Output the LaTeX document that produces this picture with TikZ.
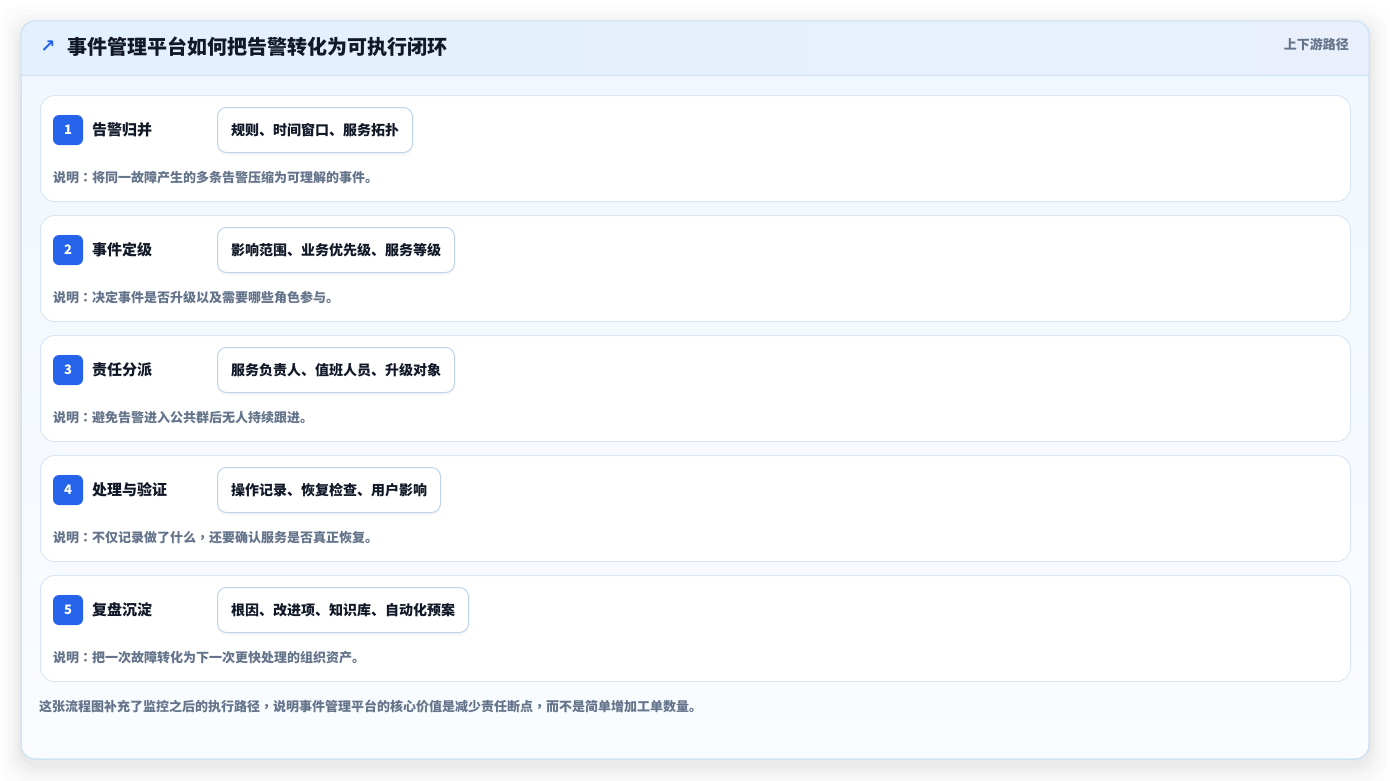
\documentclass[tikz,border=0pt]{standalone}
\usepackage{fontspec}
\setmainfont{Noto Sans CJK SC}
\newfontfamily\symfont{DejaVu Sans}
\newfontfamily\tcfont{Noto Sans CJK TC}
\usetikzlibrary{shadows}

\newlength{\du}
\setlength{\du}{1pt}
% centred full-width punctuation
\newcommand{\cc}{{\tcfont ：}}
\newcommand{\cm}{{\tcfont ，}}

\definecolor{cardline}{RGB}{204,225,244}
\definecolor{headfill}{RGB}{227,240,253}
\definecolor{headfillb}{RGB}{233,240,252}
\definecolor{bodytop}{RGB}{240,247,254}
\definecolor{bodybottom}{RGB}{250,252,255}
\definecolor{rowline}{RGB}{218,232,246}
\definecolor{badgefill}{RGB}{37,99,235}
\definecolor{chipline}{RGB}{190,212,236}
\definecolor{ink}{RGB}{17,24,39}
\definecolor{muted}{RGB}{100,116,139}

\tikzset{
  card/.style={rectangle,rounded corners=14\du,draw=cardline,line width=1\du,
    top color=bodytop,bottom color=bodybottom,minimum width=1348\du,minimum height=738\du,inner sep=0pt},
  rowbox/.style={rectangle,rounded corners=14\du,draw=rowline,line width=1\du,fill=white,
    minimum width=1310\du,minimum height=106\du,inner sep=0pt,anchor=north west},
  badge/.style={rectangle,rounded corners=6\du,fill=badgefill,text=white,minimum size=30\du,
    inner sep=0pt,font=\fontsize{13}{15}\selectfont\bfseries},
  steplabel/.style={anchor=west,inner sep=0pt,text=ink,font=\fontsize{15}{18}\selectfont\bfseries},
  chip/.style={rectangle,rounded corners=9\du,draw=chipline,line width=1\du,fill=white,anchor=west,
    minimum height=45\du,inner xsep=13.5\du,inner ysep=0pt,text=ink,font=\fontsize{14}{17}\selectfont\bfseries,
    drop shadow={opacity=0.06,shadow xshift=0pt,shadow yshift=-3pt}},
  note/.style={anchor=west,inner sep=0pt,text=muted,font=\fontsize{13}{16}\selectfont\bfseries}
}

\begin{document}
\begin{tikzpicture}[x=1\du,y=-1\du]
\useasboundingbox[fill=white] (0,0) rectangle (1390,780);
% soft shadow of the card
\foreach \s/\o in {22/0.008,17/0.01,13/0.012,9/0.014,6/0.016,3/0.018}
  \fill[black,opacity=\o,rounded corners=22\du] (21-\s,21-\s+6) rectangle (1369+\s,759+\s+6);
\node[card] (card) at (695,390) {};
% header band
\begin{scope}
\clip[rounded corners=14\du] (21,21) rectangle (1369,759);
\path[left color=headfill,right color=headfillb] (21,21) rectangle (1369,75);
\draw[cardline,line width=1\du] (21,75) -- (1369,75);
\end{scope}
\draw[cardline,line width=1\du,rounded corners=14\du] (21,21) rectangle (1369,759);
\node[anchor=center,inner sep=0pt,text=badgefill,font=\symfont\fontsize{18}{20}\selectfont\bfseries] (arrow) at (48,47) {↗};
\node[anchor=west,inner sep=0pt,text=ink,font=\fontsize{20}{24}\selectfont\bfseries] (title) at (67,47) {事件管理平台如何把告警转化为可执行闭环};
\node[anchor=east,inner sep=0pt,text=muted,font=\fontsize{13}{16}\selectfont\bfseries] (tag) at (1349,44) {上下游路径};
% steps
\foreach \lab/\chiptext/\notetext [count=\i] in {
  告警归并/规则、时间窗口、服务拓扑/将同一故障产生的多条告警压缩为可理解的事件。,
  事件定级/影响范围、业务优先级、服务等级/决定事件是否升级以及需要哪些角色参与。,
  责任分派/服务负责人、值班人员、升级对象/避免告警进入公共群后无人持续跟进。,
  处理与验证/操作记录、恢复检查、用户影响/不仅记录做了什么\cm 还要确认服务是否真正恢复。,
  复盘沉淀/根因、改进项、知识库、自动化预案/把一次故障转化为下一次更快处理的组织资产。}{
  \pgfmathsetmacro{\y}{95+(\i-1)*120}
  \node[rowbox] (row\i) at (40,\y) {};
  \node[badge] (badge\i) at (68,\y+35) {\i};
  \node[steplabel] (label\i) at (92,\y+35) {\lab};
  \node[chip] (chip\i) at (217,\y+35) {\chiptext};
  \node[note] (note\i) at (53,\y+83) {说明\cc\notetext};
}
\node[note] (foot) at (39,706) {这张流程图补充了监控之后的执行路径\cm 说明事件管理平台的核心价值是减少责任断点\cm 而不是简单增加工单数量。};
\end{tikzpicture}
\end{document}
